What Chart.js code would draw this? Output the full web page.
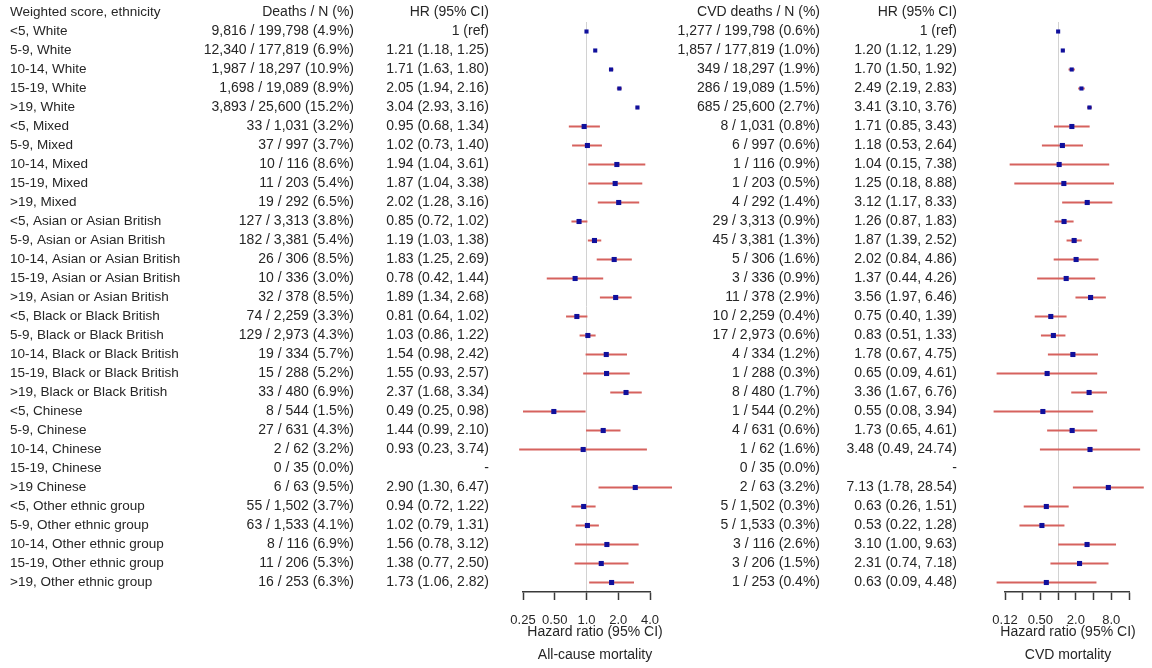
<!DOCTYPE html>
<html>
<head>
<meta charset="utf-8">
<script src="https://cdn.jsdelivr.net/npm/chart.js@4.4.0/dist/chart.umd.min.js"></script>
<style>
  body { margin: 0; background: #fff; }
  canvas { position: absolute; top: 0; }
</style>
</head>
<body>
<canvas id="allCause" width="700" height="668" style="left:0px"></canvas>
<canvas id="cvd" width="512" height="668" style="left:640px"></canvas>
<script>
const groups = [
  '<5, White', '5-9, White', '10-14, White', '15-19, White', '>19, White',
  '<5, Mixed', '5-9, Mixed', '10-14, Mixed', '15-19, Mixed', '>19, Mixed',
  '<5, Asian or Asian British', '5-9, Asian or Asian British', '10-14, Asian or Asian British',
  '15-19, Asian or Asian British', '>19, Asian or Asian British',
  '<5, Black or Black British', '5-9, Black or Black British', '10-14, Black or Black British',
  '15-19, Black or Black British', '>19, Black or Black British',
  '<5, Chinese', '5-9, Chinese', '10-14, Chinese', '15-19, Chinese', '>19 Chinese',
  '<5, Other ethnic group', '5-9, Other ethnic group', '10-14, Other ethnic group',
  '15-19, Other ethnic group', '>19, Other ethnic group'
];
const totals = [199798, 177819, 18297, 19089, 25600, 1031, 997, 116, 203, 292,
  3313, 3381, 306, 336, 378, 2259, 2973, 334, 288, 480, 544, 631, 62, 35, 63,
  1502, 1533, 116, 206, 253];

// all-cause mortality
const deaths = [9816, 12340, 1987, 1698, 3893, 33, 37, 10, 11, 19,
  127, 182, 26, 10, 32, 74, 129, 19, 15, 33, 8, 27, 2, 0, 6, 55, 63, 8, 11, 16];
const deathPct = [4.9, 6.9, 10.9, 8.9, 15.2, 3.2, 3.7, 8.6, 5.4, 6.5,
  3.8, 5.4, 8.5, 3.0, 8.5, 3.3, 4.3, 5.7, 5.2, 6.9, 1.5, 4.3, 3.2, 0.0, 9.5,
  3.7, 4.1, 6.9, 5.3, 6.3];
const hr = [1, 1.21, 1.71, 2.05, 3.04, 0.95, 1.02, 1.94, 1.87, 2.02,
  0.85, 1.19, 1.83, 0.78, 1.89, 0.81, 1.03, 1.54, 1.55, 2.37,
  0.49, 1.44, 0.93, null, 2.90, 0.94, 1.02, 1.56, 1.38, 1.73];
const hrLow = [null, 1.18, 1.63, 1.94, 2.93, 0.68, 0.73, 1.04, 1.04, 1.28,
  0.72, 1.03, 1.25, 0.42, 1.34, 0.64, 0.86, 0.98, 0.93, 1.68,
  0.25, 0.99, 0.23, null, 1.30, 0.72, 0.79, 0.78, 0.77, 1.06];
const hrHigh = [null, 1.25, 1.80, 2.16, 3.16, 1.34, 1.40, 3.61, 3.38, 3.16,
  1.02, 1.38, 2.69, 1.44, 2.68, 1.02, 1.22, 2.42, 2.57, 3.34,
  0.98, 2.10, 3.74, null, 6.47, 1.22, 1.31, 3.12, 2.50, 2.82];

// CVD mortality
const cvdDeaths = [1277, 1857, 349, 286, 685, 8, 6, 1, 1, 4,
  29, 45, 5, 3, 11, 10, 17, 4, 1, 8, 1, 4, 1, 0, 2, 5, 5, 3, 3, 1];
const cvdPct = [0.6, 1.0, 1.9, 1.5, 2.7, 0.8, 0.6, 0.9, 0.5, 1.4,
  0.9, 1.3, 1.6, 0.9, 2.9, 0.4, 0.6, 1.2, 0.3, 1.7, 0.2, 0.6, 1.6, 0.0, 3.2,
  0.3, 0.3, 2.6, 1.5, 0.4];
const cvdHr = [1, 1.20, 1.70, 2.49, 3.41, 1.71, 1.18, 1.04, 1.25, 3.12,
  1.26, 1.87, 2.02, 1.37, 3.56, 0.75, 0.83, 1.78, 0.65, 3.36,
  0.55, 1.73, 3.48, null, 7.13, 0.63, 0.53, 3.10, 2.31, 0.63];
const cvdLow = [null, 1.12, 1.50, 2.19, 3.10, 0.85, 0.53, 0.15, 0.18, 1.17,
  0.87, 1.39, 0.84, 0.44, 1.97, 0.40, 0.51, 0.67, 0.09, 1.67,
  0.08, 0.65, 0.49, null, 1.78, 0.26, 0.22, 1.00, 0.74, 0.09];
const cvdHigh = [null, 1.29, 1.92, 2.83, 3.76, 3.43, 2.64, 7.38, 8.88, 8.33,
  1.83, 2.52, 4.86, 4.26, 6.46, 1.39, 1.33, 4.75, 4.61, 6.76,
  3.94, 4.61, 24.74, null, 28.54, 1.51, 1.28, 9.63, 7.18, 4.48];

const allCauseTicks = [0.25, 0.5, 1, 2, 4];
const allCauseTickLabels = ['0.25', '0.50', '1.0', '2.0', '4.0'];
const cvdTicks = [0.125, 0.25, 0.5, 1, 2, 4, 8, 16];
const cvdTickLabels = ['0.12', '', '0.50', '', '2.0', '', '8.0', ''];

const TEXT = '#262626';
const FONT = '"Liberation Sans", Arial, sans-serif';

const fmtN = n => n.toLocaleString('en-US');
const countText = (d, pct) => d.map((v, i) => `${fmtN(v)} / ${fmtN(totals[i])} (${pct[i].toFixed(1)}%)`);
const hrText = (est, lo, hi) => est.map((v, i) => {
  if (v === null) return '-';
  if (lo[i] === null) return '1 (ref)';
  return `${v.toFixed(2)} (${lo[i].toFixed(2)}, ${hi[i].toFixed(2)})`;
});

// CI segments as one line dataset, broken by NaN points
function ciData(lo, hi) {
  const out = [];
  lo.forEach((v, i) => {
    if (v === null) return;
    out.push({ x: v, y: i }, { x: hi[i], y: i }, { x: NaN, y: i });
  });
  return out;
}
const pointData = est => est.map((v, i) => ({ x: v, y: i })).filter(p => p.x !== null);

function makeForest(id, cfg) {
  const textPlugin = {
    id: 'forestText',
    afterDraw(chart) {
      const { ctx } = chart;
      const y = chart.scales.y;
      const x = chart.scales.x;
      ctx.save();
      ctx.fillStyle = TEXT;
      ctx.textBaseline = 'middle';
      cfg.columns.forEach(col => {
        ctx.font = col.font;
        ctx.textAlign = col.align;
        ctx.fillText(col.header, col.x, y.getPixelForValue(-1));
        col.values.forEach((t, i) => ctx.fillText(t, col.x, y.getPixelForValue(i)));
      });
      ctx.textAlign = 'center';
      ctx.font = '14px ' + FONT;
      ctx.fillText('Hazard ratio (95% CI)', cfg.titleX, x.top + 40);
      ctx.fillText(cfg.title, cfg.titleX, x.top + 63);
      ctx.restore();
    }
  };

  return new Chart(document.getElementById(id), {
    type: 'scatter',
    data: {
      datasets: [
        {
          // first dataset is drawn on top
          data: pointData(cfg.est),
          pointStyle: 'rect',
          backgroundColor: '#10109c',
          borderColor: '#10109c',
          borderWidth: 0,
          pointRadius: ctx => (ctx.raw && ctx.raw.y < 5 ? 2.9 : 3.6),
          clip: false
        },
        {
          data: ciData(cfg.lo, cfg.hi),
          showLine: true,
          spanGaps: false,
          borderColor: '#d6625e',
          borderWidth: 1.8,
          pointRadius: 0,
          clip: false
        }
      ]
    },
    options: {
      responsive: false,
      animation: false,
      events: [],
      devicePixelRatio: 1,
      layout: { padding: { left: cfg.padLeft, right: cfg.padRight, top: 22, bottom: 0 } },
      plugins: { legend: { display: false }, tooltip: { enabled: false } },
      scales: {
        y: { type: 'linear', min: -0.5, max: 29.5, reverse: true, display: false },
        x: {
          type: 'logarithmic',
          min: cfg.ticks[0],
          max: cfg.ticks[cfg.ticks.length - 1],
          bounds: 'data',
          afterBuildTicks: scale => { scale.ticks = cfg.ticks.map(v => ({ value: v })); },
          afterFit: scale => { scale.height = 76; },
          border: { display: true, color: '#3a3a3a', width: 1.5 },
          grid: {
            drawOnChartArea: true,
            color: ctx => (ctx.tick && ctx.tick.value === 1 ? '#d2d2d2' : 'rgba(0,0,0,0)'),
            lineWidth: 1,
            tickColor: '#3a3a3a',
            tickWidth: 1.5,
            tickLength: 8
          },
          ticks: {
            autoSkip: false,
            maxRotation: 0,
            padding: 13,
            color: TEXT,
            font: { family: FONT, size: 13 },
            callback: (v, i) => cfg.tickLabels[i]
          }
        }
      }
    },
    plugins: [textPlugin]
  });
}

const labelFont = '13.5px ' + FONT;
const numFont = '14px ' + FONT;

makeForest('allCause', {
  est: hr, lo: hrLow, hi: hrHigh,
  ticks: allCauseTicks, tickLabels: allCauseTickLabels,
  padLeft: 523, padRight: 50,
  title: 'All-cause mortality', titleX: 595,
  columns: [
    { x: 10, align: 'left', font: labelFont, header: 'Weighted score, ethnicity', values: groups },
    { x: 354, align: 'right', font: numFont, header: 'Deaths / N (%)', values: countText(deaths, deathPct) },
    { x: 489, align: 'right', font: numFont, header: 'HR (95% CI)', values: hrText(hr, hrLow, hrHigh) }
  ]
});

makeForest('cvd', {
  est: cvdHr, lo: cvdLow, hi: cvdHigh,
  ticks: cvdTicks, tickLabels: cvdTickLabels,
  padLeft: 365, padRight: 23,
  title: 'CVD mortality', titleX: 428,
  columns: [
    { x: 180, align: 'right', font: numFont, header: 'CVD deaths / N (%)', values: countText(cvdDeaths, cvdPct) },
    { x: 317, align: 'right', font: numFont, header: 'HR (95% CI)', values: hrText(cvdHr, cvdLow, cvdHigh) }
  ]
});
</script>
</body>
</html>
